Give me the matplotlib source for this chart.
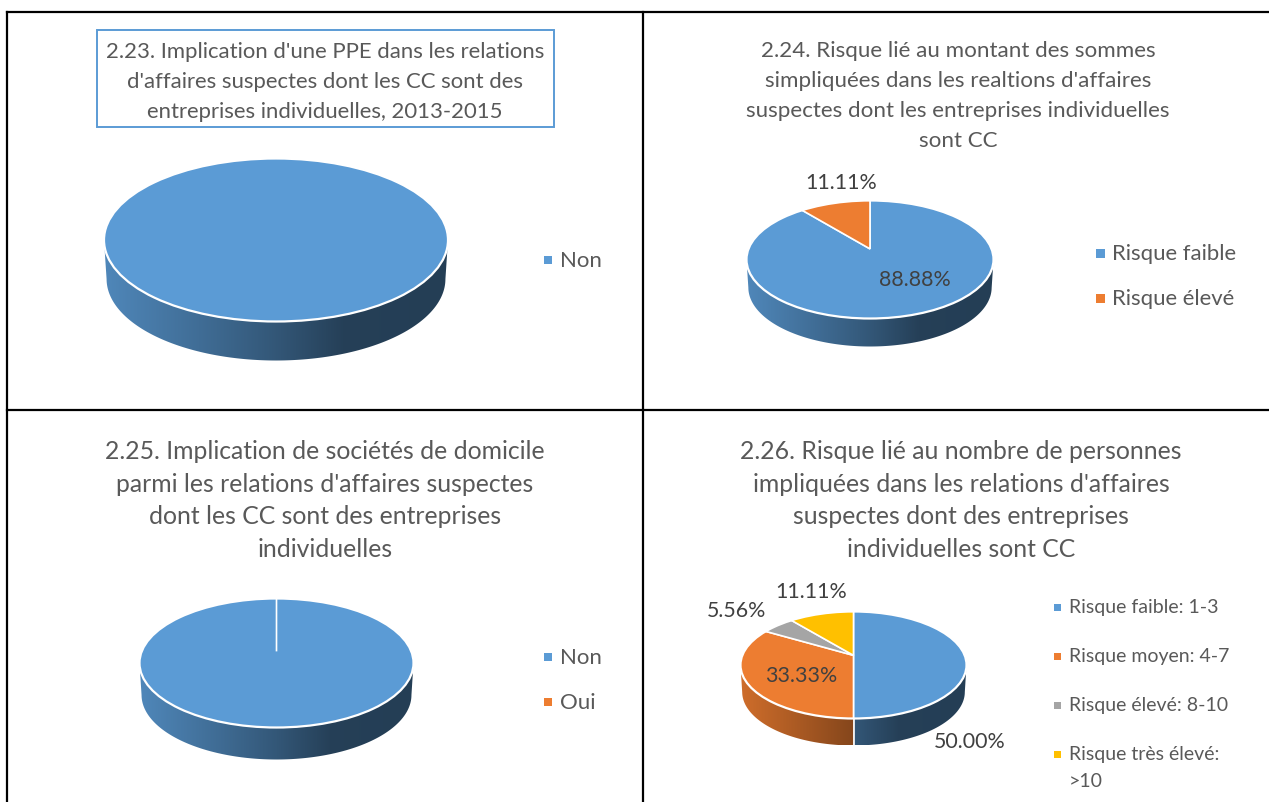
import numpy as np
import matplotlib
matplotlib.use("Agg")
import matplotlib.pyplot as plt
from matplotlib.colors import to_rgb
from matplotlib.patches import Ellipse, Polygon, Rectangle

plt.rcParams['font.family'] = ['Lato', 'DejaVu Sans']

W, H = 1269, 803
BLUE, ORANGE, GREY, YELLOW = '#5b9bd5', '#ed7d31', '#a5a5a5', '#ffc000'
TITLE_GREY = '#595959'
LABEL_GREY = '#404040'

# data
values_223 = [100]
labels_223 = ['Non']
values_224 = [88.88, 11.11]
labels_224 = ['Risque faible', 'Risque élevé']
values_225 = [100, 0]
labels_225 = ['Non', 'Oui']
values_226 = [50.00, 33.33, 5.56, 11.11]
labels_226 = ['Risque faible: 1-3', 'Risque moyen: 4-7', 'Risque élevé: 8-10', 'Risque très élevé:\n>10']

title_223 = "2.23. Implication d'une PPE dans les relations\nd'affaires suspectes dont les CC sont des\nentreprises individuelles, 2013-2015"
title_224 = "2.24. Risque lié au montant des sommes\nsimpliquées dans les realtions d'affaires\nsuspectes dont les entreprises individuelles\nsont CC"
title_225 = "2.25. Implication de sociétés de domicile\nparmi les relations d'affaires suspectes\ndont les CC sont des entreprises\nindividuelles"
title_226 = "2.26. Risque lié au nombre de personnes\nimpliquées dans les relations d'affaires\nsuspectes dont des entreprises\nindividuelles sont CC"

APEX = 0.18  # the tilted pie has its centre above the middle of the ellipse


def rim_points(th):
    # where a ray from the apex meets the ellipse, th clockwise from 12 o'clock
    dx, dy = np.sin(th), np.cos(th)
    b = APEX * dy
    t = -b + np.sqrt(b ** 2 - (APEX ** 2 - 1))
    return t * dx, APEX + t * dy


def shade(x):
    return np.interp(x, [-1, -0.5, 0, 0.4, 1], [0.87, 0.72, 0.56, 0.41, 0.40])


def draw_pie(fig, values, colors, cx, cy, rx, ry, depth):
    d = depth / ry
    top, bottom = cy - ry - 3, cy + ry + depth + 3
    ax = fig.add_axes([(cx - rx - 3) / W, 1 - bottom / H, (2 * rx + 6) / W, (bottom - top) / H])
    wedges, _ = ax.pie(values, colors=colors, center=(0, APEX), radius=4, startangle=90,
                       counterclock=False, wedgeprops={'edgecolor': 'white', 'linewidth': 1.2})
    rim = Ellipse((0, 0), 2, 2, transform=ax.transData)
    for w in wedges:
        w.set_clip_on(True)
        w.set_clip_path(rim)

    # side wall, one gradient piece per slice
    edges = np.cumsum([0] + list(values)) / sum(values) * 2 * np.pi
    for i, color in enumerate(colors):
        th = np.linspace(edges[i], edges[i + 1], 500)
        x, y = rim_points(th)
        keep = y <= 0
        if not keep.any():
            continue
        x, y = x[keep], y[keep]
        poly = np.vstack([np.c_[x, y], np.c_[x[::-1] * 0.985, y[::-1] - d]])
        xs = np.linspace(x.min(), x.max(), 200)
        img = shade(xs)[None, :, None] * np.array(to_rgb(color))[None, None, :]
        im = ax.imshow(img, extent=(xs[0], xs[-1], -1 - d, 0), aspect='auto', zorder=0)
        im.set_clip_path(Polygon(poly, transform=ax.transData))
        x0, y0 = rim_points(edges[i])
        if y0 < 0 and i > 0:
            ax.plot([x0, x0], [y0, y0 - d], color='white', lw=1.2, zorder=0.5)

    ax.add_patch(Ellipse((0, 0), 2, 2, fill=False, edgecolor='white', lw=1.6, zorder=3))
    ax.set_aspect('auto')
    ax.set_xlim(-1 - 3 / rx, 1 + 3 / rx)
    ax.set_ylim(-1 - d - 3 / ry, 1 + 3 / ry)
    ax.axis('off')


fig = plt.figure(figsize=(W / 100, H / 100), dpi=100, facecolor='white')

draw_pie(fig, values_223, [BLUE], 276, 241, 172, 81.5, 39)
draw_pie(fig, values_224, [BLUE, ORANGE], 870, 260.5, 123.5, 59, 28)
draw_pie(fig, values_225, [BLUE, ORANGE], 276.5, 664, 137, 64.5, 32)
draw_pie(fig, values_226, [BLUE, ORANGE, GREY, YELLOW], 853.5, 666, 113, 53.5, 27)

# everything else is placed in pixels on an overlay
ov = fig.add_axes([0, 0, 1, 1], facecolor='none')
ov.set_xlim(0, W)
ov.set_ylim(H - 1, -1)
ov.axis('off')

# table lines
for x in [7, 643]:
    ov.plot([x, x], [12, H], color='black', lw=1.6)
for y in [12, 410]:
    ov.plot([7, W], [y, y], color='black', lw=1.6)

# titles
ov.add_patch(Rectangle((97, 30), 457, 97, fill=False, edgecolor=BLUE, lw=1.4))
ov.text(325, 81, title_223, ha='center', va='center', fontsize=15.9, color=TITLE_GREY, linespacing=1.63)
ov.text(958, 95, title_224, ha='center', va='center', fontsize=16.1, color=TITLE_GREY, linespacing=1.63)
ov.text(325, 499.5, title_225, ha='center', va='center', fontsize=17.8, color=TITLE_GREY, linespacing=1.5)
ov.text(961, 499.5, title_226, ha='center', va='center', fontsize=17.8, color=TITLE_GREY, linespacing=1.5)


def legend(labels, colors, x, ys, size, fontsize):
    for lab, col, y in zip(labels, colors, ys):
        ov.add_patch(Rectangle((x - size / 2, y - size / 2), size, size, color=col, lw=0))
        ov.text(x + 12, y, lab.split('\n')[0], va='center', fontsize=fontsize, color=TITLE_GREY)
        if '\n' in lab:
            ov.text(x + 12, y + 27, lab.split('\n')[1], va='center', fontsize=fontsize, color=TITLE_GREY)


legend(labels_223, [BLUE], 548, [260], 8, 16)
legend(labels_224, [BLUE, ORANGE], 1100, [253, 298], 9, 15.9)
legend(labels_225, [BLUE, ORANGE], 548, [657, 702], 8, 16)
legend(labels_226, [BLUE, ORANGE, GREY, YELLOW], 1057, [607, 656, 705, 754], 7, 14)

# data labels
for val, (x, y) in zip(values_224, [(915, 279), (841, 182)]):
    ov.text(x, y, f'{val:.2f}%', ha='center', va='center', fontsize=15.4, color=LABEL_GREY)
for val, (x, y) in zip(values_226, [(970, 741), (801, 675), (737, 610), (811, 591)]):
    ov.text(x, y, f'{val:.2f}%', ha='center', va='center', fontsize=15.4, color=LABEL_GREY)

fig.savefig('out.png', dpi=100)
plt.close(fig)
